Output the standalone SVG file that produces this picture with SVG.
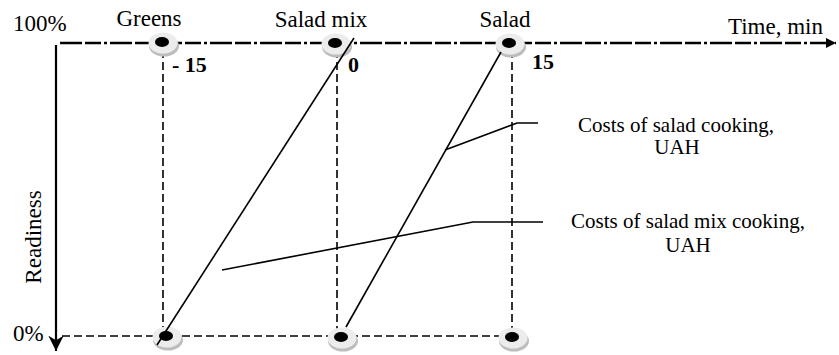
<svg xmlns="http://www.w3.org/2000/svg" width="839" height="355" viewBox="0 0 839 355" font-family="'Liberation Serif', 'Times New Roman', 'DejaVu Serif', serif">
<style>
.lbl{font-size:23px}
.cost{font-size:21px;text-anchor:middle}
.num{font-size:22px;font-weight:bold}
.axis{stroke:#000;fill:none}
.guide{stroke:#000;stroke-width:1.6;stroke-dasharray:8 4;fill:none}
.line{stroke:#000;stroke-width:1.6;fill:none}
</style>
<defs>
<marker id="arrR" viewBox="0 0 10 10" refX="10" refY="5" markerWidth="4" markerHeight="5" orient="auto" markerUnits="strokeWidth">
<path d="M0,0 L10,5 L0,10 z" fill="#000"/>
</marker>
<marker id="arrD" viewBox="0 0 10 10" refX="10" refY="5" markerWidth="7" markerHeight="7" orient="auto" markerUnits="strokeWidth">
<path d="M0,0 L10,5 L0,10 L3,5 z" fill="#000"/>
</marker>
<g id="disc">
<ellipse cx="2" cy="4" rx="15" ry="10.5" fill="#bdbdbd"/>
<ellipse cx="1" cy="1" rx="14.5" ry="10.5" fill="#ececec"/>
<ellipse cx="0" cy="0" rx="7" ry="5" fill="#000"/>
</g>
</defs>
<rect width="839" height="355" fill="#fff"/>

<g id="axes">
<line class="axis" x1="60" y1="43" x2="836" y2="43" stroke-width="2.6" stroke-dasharray="22 3 16 3 3 3" marker-end="url(#arrR)"/>
<line class="axis" x1="56" y1="45" x2="56" y2="351" stroke-width="2.2" marker-end="url(#arrD)"/>
<line class="guide" x1="62" y1="336" x2="512" y2="336"/>
<line class="guide" x1="163" y1="50" x2="163" y2="330"/>
<line class="guide" x1="337" y1="50" x2="337" y2="330"/>
<line class="guide" x1="512" y1="50" x2="512" y2="330"/>
</g>

<g id="node-greens-top"><use href="#disc" x="162" y="42"/></g>
<g id="node-saladmix-top"><use href="#disc" x="335" y="43"/></g>
<g id="node-salad-top"><use href="#disc" x="509" y="43"/></g>
<g id="node-greens-bottom"><use href="#disc" x="166" y="336"/></g>
<g id="node-saladmix-bottom"><use href="#disc" x="341" y="337"/></g>
<g id="node-salad-bottom"><use href="#disc" x="512" y="337"/></g>

<g id="connectors">
<line class="line" x1="157" y1="345" x2="354" y2="38"/>
<line class="line" x1="346" y1="327" x2="501" y2="52"/>
<polyline class="line" points="445,150 517,123 538,123"/>
<polyline class="line" points="222,270 473,222 543,222"/>
</g>

<g id="labels" font-family="'Liberation Serif', 'Times New Roman', 'DejaVu Serif', serif" fill="#000">
<text class="lbl" x="13" y="31">100%</text>
<text class="lbl" x="149" y="26" text-anchor="middle">Greens</text>
<text class="lbl" x="321" y="27" text-anchor="middle">Salad mix</text>
<text class="lbl" x="505" y="27" text-anchor="middle">Salad</text>
<text class="lbl" x="823" y="34" text-anchor="end">Time, min</text>
<text class="num" x="172" y="72">- 15</text>
<text class="num" x="348" y="72">0</text>
<text class="num" x="532" y="69">15</text>
<text class="lbl" x="13" y="341">0%</text>
<text class="cost" x="676" y="132">Costs of salad cooking,</text>
<text class="cost" x="677" y="154">UAH</text>
<text class="cost" x="688" y="228">Costs of salad mix cooking,</text>
<text class="cost" x="688" y="252">UAH</text>
<text class="lbl" transform="translate(41,237) rotate(-90)" text-anchor="middle">Readiness</text>
</g>
</svg>
